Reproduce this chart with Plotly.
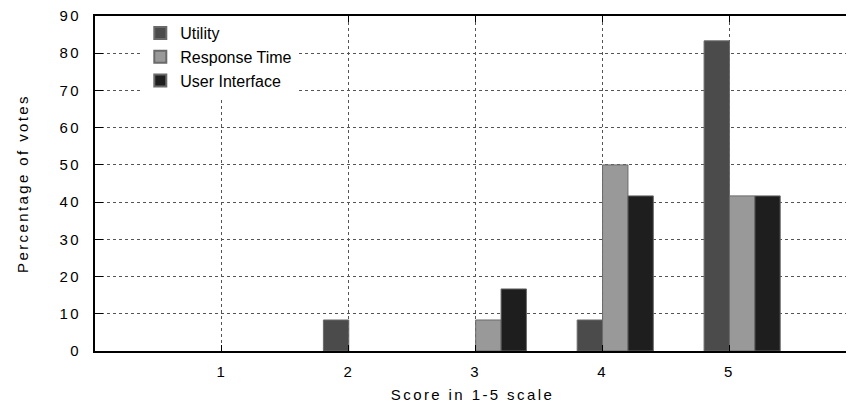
import plotly.graph_objects as go

categories = [1, 2, 3, 4, 5]
tick_labels = ["1", "2", "3", "4", "5"]
series_names = ["Utility", "Response Time", "User Interface"]
utility = [0, 8.33, 0, 8.33, 83.33]
response_time = [0, 0, 8.33, 50.0, 41.67]
user_interface = [0, 0, 16.67, 41.67, 41.67]
y_ticks = [0, 10, 20, 30, 40, 50, 60, 70, 80, 90]

series_values = [utility, response_time, user_interface]
colors = ["#4b4b4b", "#999999", "#1e1e1e"]
offsets = [-0.2, 0.0, 0.2]

FONT = "Liberation Sans"
FS = 15

fig = go.Figure()
for name, vals, col, off in zip(series_names, series_values, colors, offsets):
    fig.add_trace(go.Bar(
        x=categories, y=vals, name=name,
        width=0.2, offset=off,
        marker=dict(color=col,
                    line=dict(color="#6a6a6a",
                              width=[1 if v > 0 else 0 for v in vals])),
    ))

fig.update_layout(
    width=850, height=404,
    margin=dict(l=95, r=0, t=16, b=53),
    plot_bgcolor="white", paper_bgcolor="white",
    barmode="overlay",
    font=dict(family=FONT, size=FS, color="black"),
    showlegend=True,
    legend=dict(
        x=0.06, y=1.0, xanchor="left", yanchor="top",
        bgcolor="white", borderwidth=0,
        font=dict(family=FONT, size=16, color="black"),
        tracegroupgap=0, itemsizing="constant",
    ),
)

fig.update_xaxes(
    range=[0, 5.95],
    tickmode="array", tickvals=categories, ticktext=tick_labels,
    ticks="inside", ticklen=6, tickcolor="black",
    showline=True, linecolor="black", linewidth=2, mirror="ticks",
    showgrid=True, gridcolor="#555", griddash="dot", gridwidth=1,
    zeroline=False, automargin=False, ticklabelstandoff=6,
    title=dict(text="Score in 1-5 scale", font=dict(family=FONT, size=FS), standoff=10),
    tickfont=dict(family=FONT, size=FS),
)
fig.update_yaxes(
    range=[0, 90],
    tickmode="array", tickvals=y_ticks,
    ticks="inside", ticklen=8, tickcolor="black",
    showline=True, linecolor="black", linewidth=2, mirror=False,
    showgrid=True, gridcolor="#555", griddash="dot", gridwidth=1,
    zeroline=False, automargin=False, ticklabelstandoff=9,
    title=dict(text="Percentage of votes", font=dict(family=FONT, size=FS), standoff=32),
    tickfont=dict(family=FONT, size=FS),
)

post = (
    "document.body.style.margin='0';"
    "document.body.style.overflow='hidden';"
    "document.documentElement.style.overflow='hidden';"
    "var gd=document.getElementById('{plot_id}');"
    "gd.style.width='846px';gd.style.overflow='hidden';"
    "gd.querySelectorAll('.xtick text, .ytick text, .g-xtitle text, .g-ytitle text')"
    ".forEach(function(t){t.style.letterSpacing='2.4px';});"
)

fig.write_html("out.html", post_script=post, config={"displayModeBar": False})
